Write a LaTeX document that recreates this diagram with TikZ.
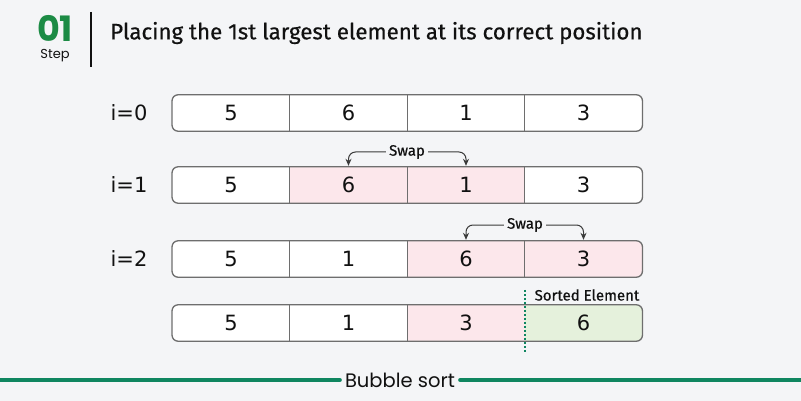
\documentclass[tikz,border=0pt]{standalone}
\usepackage{fontspec}
\usepackage{tikz}
\usetikzlibrary{arrows.meta}
\setmainfont{DejaVu Sans}
\newfontfamily\popfont{Poppins}
\newfontfamily\firafont[FakeBold=0.5]{Fira Sans}
\definecolor{pagebg}{HTML}{F4F5F7}
\definecolor{framegray}{HTML}{6E6E6E}
\definecolor{arrowgray}{HTML}{3A3A3A}
\definecolor{swapfill}{HTML}{FCE7EB}
\definecolor{sortfill}{HTML}{E5F1DC}
\definecolor{stepgreen}{HTML}{1C8B45}
\definecolor{linegreen}{HTML}{0F8660}
\definecolor{textdark}{HTML}{111111}
\tikzstyle{cell} = [rectangle, minimum width=117.5pt, minimum height=36pt,
    inner sep=0pt, font=\fontsize{21}{24}\selectfont, text=textdark]
\tikzstyle{rowframe} = [draw=framegray, line width=1.3pt, rounded corners=6pt]
\tikzstyle{cellline} = [draw=framegray, line width=1pt]
\tikzstyle{rowlabel} = [font=\fontsize{21}{24}\selectfont, text=textdark]
\tikzstyle{swaplabel} = [font=\firafont\fontsize{15}{17}\selectfont, text=textdark, inner sep=3pt]
\tikzstyle{swaparrow} = [draw=arrowgray, line width=1pt, rounded corners=7pt,
    -{Stealth[length=7pt,width=6pt]}]

\begin{document}
\begin{tikzpicture}[x=1pt, y=-1pt]
    \useasboundingbox[fill=pagebg] (0,0) rectangle (801,401);
    % header
    \node[font=\popfont\bfseries\fontsize{35}{37}\selectfont, text=stepgreen, inner sep=0pt,
        text height=25pt, text depth=0pt, anchor=south] (stepnum) at (55,42) {01};
    \node[font=\popfont\fontsize{13}{15}\selectfont, text=textdark, inner sep=0pt,
        text height=10pt, text depth=3pt, anchor=north] (steplabel) at (55,48) {Step};
    \coordinate (ruletop) at (91,12);
    \coordinate (rulebot) at (91,67);
    \draw[line width=1.6pt, textdark] (ruletop) -- (rulebot);
    \node[anchor=west, font=\firafont\fontsize{22.3}{26}\selectfont, text=textdark, inner sep=0pt] (title) at (110,33)
        {Placing the 1st largest element at its correct position};

    % i=0
    \node[rowlabel] (lab0) at (129,113) {i=0};
    \begin{scope}
        \clip[rounded corners=6pt] (172,95) rectangle (642,131);
        \node[cell, fill=white] (r0c1) at (231,113) {5};
        \node[cell, fill=white] (r0c2) at (348.5,113) {6};
        \node[cell, fill=white] (r0c3) at (466,113) {1};
        \node[cell, fill=white] (r0c4) at (583.5,113) {3};
    \end{scope}
    \draw[cellline] (r0c1.north east) -- (r0c1.south east);
    \draw[cellline] (r0c2.north east) -- (r0c2.south east);
    \draw[cellline] (r0c3.north east) -- (r0c3.south east);
    \draw[rowframe] (r0c1.north west) rectangle (r0c4.south east);

    % i=1
    \node[rowlabel] (lab1) at (129,185) {i=1};
    \begin{scope}
        \clip[rounded corners=6pt] (172,167) rectangle (642,203);
        \node[cell, fill=white] (r1c1) at (231,185) {5};
        \node[cell, fill=swapfill] (r1c2) at (348.5,185) {6};
        \node[cell, fill=swapfill] (r1c3) at (466,185) {1};
        \node[cell, fill=white] (r1c4) at (583.5,185) {3};
    \end{scope}
    \draw[cellline] (r1c1.north east) -- (r1c1.south east);
    \draw[cellline] (r1c2.north east) -- (r1c2.south east);
    \draw[cellline] (r1c3.north east) -- (r1c3.south east);
    \draw[rowframe] (r1c1.north west) rectangle (r1c4.south east);
    \node[swaplabel] (swap1) at (407,152) {Swap};
    \draw[swaparrow] (swap1.west) -| ([yshift=1pt]r1c2.north);
    \draw[swaparrow] (swap1.east) -| ([yshift=1pt]r1c3.north);

    % i=2
    \node[rowlabel] (lab2) at (129,259) {i=2};
    \begin{scope}
        \clip[rounded corners=6pt] (172,241) rectangle (642,277);
        \node[cell, fill=white] (r2c1) at (231,259) {5};
        \node[cell, fill=white] (r2c2) at (348.5,259) {1};
        \node[cell, fill=swapfill] (r2c3) at (466,259) {6};
        \node[cell, fill=swapfill] (r2c4) at (583.5,259) {3};
    \end{scope}
    \draw[cellline] (r2c1.north east) -- (r2c1.south east);
    \draw[cellline] (r2c2.north east) -- (r2c2.south east);
    \draw[cellline] (r2c3.north east) -- (r2c3.south east);
    \draw[rowframe] (r2c1.north west) rectangle (r2c4.south east);
    \node[swaplabel] (swap2) at (525,225) {Swap};
    \draw[swaparrow] (swap2.west) -| ([yshift=1pt]r2c3.north);
    \draw[swaparrow] (swap2.east) -| ([yshift=1pt]r2c4.north);

    % sorted row
    \begin{scope}
        \clip[rounded corners=6pt] (172,305) rectangle (642,341);
        \node[cell, fill=white] (r3c1) at (231,323) {5};
        \node[cell, fill=white] (r3c2) at (348.5,323) {1};
        \node[cell, fill=swapfill] (r3c3) at (466,323) {3};
        \node[cell, fill=sortfill] (r3c4) at (583.5,323) {6};
    \end{scope}
    \draw[cellline] (r3c1.north east) -- (r3c1.south east);
    \draw[cellline] (r3c2.north east) -- (r3c2.south east);
    \draw[rowframe] (r3c1.north west) rectangle (r3c4.south east);
    \draw[linegreen, line width=1.2pt, dash pattern=on 2pt off 2pt]
        ([yshift=15pt]r3c3.north east) -- ([yshift=-12pt]r3c3.south east);
    \node[swaplabel] (sortlabel) at (587,295) {Sorted Element};

    % footer
    \node[font=\popfont\fontsize{19.5}{22}\selectfont, text=textdark, inner sep=0pt] (caption) at (400,380) {Bubble sort};
    \coordinate (leftend) at (-3,380);
    \coordinate (rightend) at (804,380);
    \draw[linegreen, line width=4pt, line cap=round] (leftend) -- ([xshift=-5pt]caption.west);
    \draw[linegreen, line width=4pt, line cap=round] ([xshift=5pt]caption.east) -- (rightend);
\end{tikzpicture}
\end{document}
